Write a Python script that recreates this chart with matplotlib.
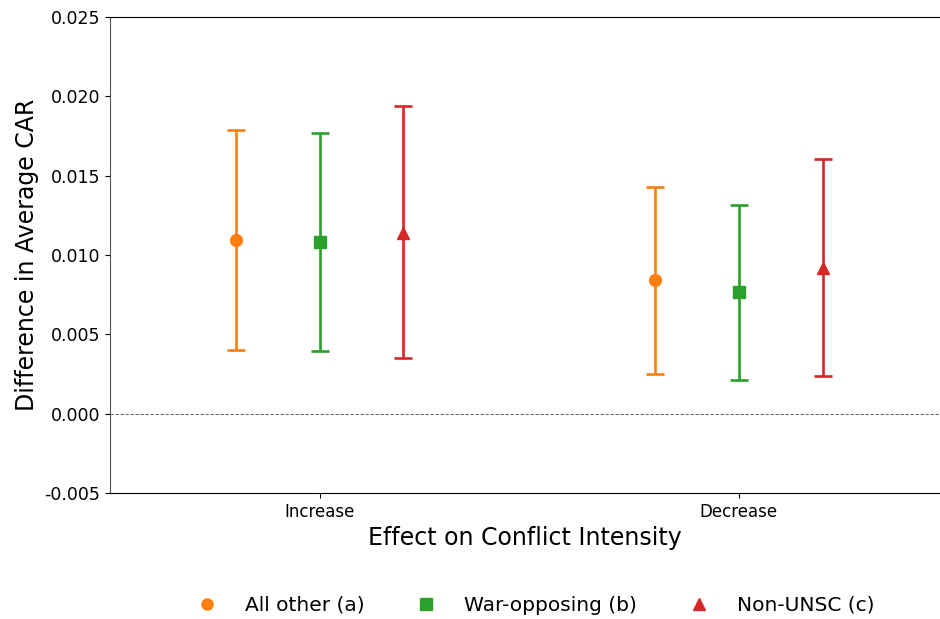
import numpy as np
import matplotlib.pyplot as plt
from matplotlib.lines import Line2D

categories = ["Increase", "Decrease"]
groups = ["All other (a)", "War-opposing (b)", "Non-UNSC (c)"]
colors = ["tab:orange", "tab:green", "tab:red"]
markers = ["o", "s", "^"]

# point estimate and confidence bounds per group, [Increase, Decrease]
means = [
    [0.01095, 0.00843],
    [0.01082, 0.00765],
    [0.01139, 0.00918],
]
lower = [
    [0.00400, 0.00252],
    [0.00397, 0.00212],
    [0.00350, 0.00238],
]
upper = [
    [0.01790, 0.01429],
    [0.01770, 0.01315],
    [0.01940, 0.01605],
]

fig = plt.figure(figsize=(9.4, 6.19), dpi=100)
ax = fig.add_axes([0.117, 0.2036, 0.883, 0.769])

x = np.arange(len(categories))
offsets = [-0.2, 0.0, 0.2]
for i, name in enumerate(groups):
    m = np.array(means[i])
    err = [m - np.array(lower[i]), np.array(upper[i]) - m]
    ax.errorbar(x + offsets[i], m, yerr=err, fmt=markers[i], color=colors[i],
                ecolor=colors[i], elinewidth=1.9, capsize=6.5, capthick=1.9,
                markersize=8.5)

ax.axhline(0, color="#444444", linestyle="--", linewidth=0.6, dashes=(4, 2))

yt = np.arange(-0.005, 0.0251, 0.005)
ax.set_xlim(-0.5, 1.48)
ax.set_ylim(-0.005, 0.025)
ax.set_yticks(yt)
ax.set_yticklabels([f"{v:.3f}" for v in yt], fontsize=12.5)
ax.set_xticks(x)
ax.set_xticklabels(categories, fontsize=12)
ax.set_xlabel("Effect on Conflict Intensity", fontsize=17)
ax.set_ylabel("Difference in Average CAR", fontsize=17)
ax.spines["right"].set_visible(False)
ax.spines["left"].set_color("#555555")

handles = [Line2D([], [], linestyle="none", marker=markers[i], color=colors[i],
                  markersize=8, label=groups[i]) for i in range(len(groups))]
fig.legend(handles=handles, loc="center", bbox_to_anchor=(0.5645, 0.022), ncol=3,
           frameon=False, fontsize=14.5, handletextpad=0.9, columnspacing=2.05)

fig.savefig("out.png", dpi=100)
